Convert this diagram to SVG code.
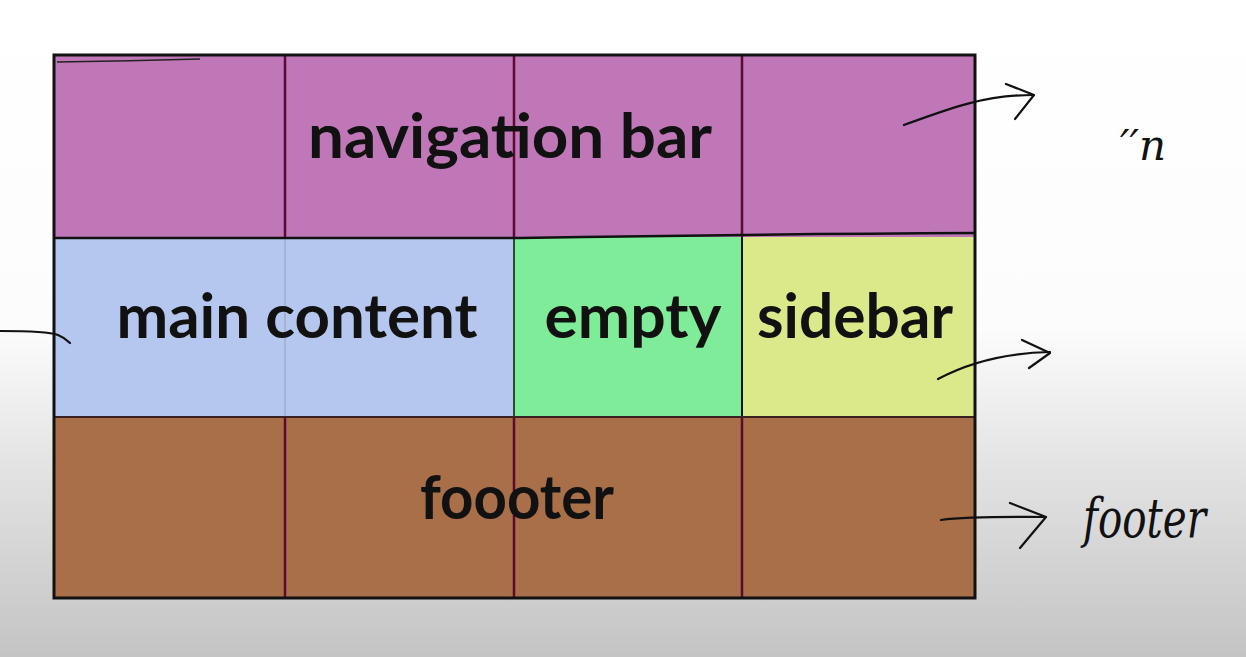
<svg xmlns="http://www.w3.org/2000/svg" width="1246" height="657" viewBox="0 0 1246 657">
  <defs>
    <linearGradient id="bg" x1="0" y1="0" x2="0" y2="1">
      <stop offset="0" stop-color="#ffffff"/>
      <stop offset="0.5" stop-color="#fcfcfc"/>
      <stop offset="0.72" stop-color="#e2e2e2"/>
      <stop offset="1" stop-color="#c4c4c4"/>
    </linearGradient>
    <style>
      .label { font-family: "Lato", "Open Sans", sans-serif; font-weight: 700; font-size: 62px; fill: #111; }
      .cellline { stroke: #5c0b30; stroke-width: 2.5; fill: none; }
      .ink { stroke: #111; stroke-width: 2.2; fill: none; stroke-linecap: round; stroke-linejoin: round; }
      .hand { font-family: "DejaVu Serif", serif; font-style: italic; font-weight: 300; fill: #111; }
    </style>
  </defs>

  <rect width="1246" height="657" fill="url(#bg)"/>

  <!-- navigation bar row -->
  <g id="nav">
    <rect x="54" y="55" width="921" height="182" fill="#bf77b8"/>
    <line class="cellline" x1="285" y1="55" x2="285" y2="237"/>
    <line class="cellline" x1="514" y1="55" x2="514" y2="237"/>
    <line class="cellline" x1="742" y1="55" x2="742" y2="237"/>
    <text class="label" x="510" y="158" text-anchor="middle" textLength="404" lengthAdjust="spacingAndGlyphs">navigation bar</text>
  </g>

  <!-- main content spans two columns -->
  <g id="main">
    <rect x="54" y="237" width="460" height="180" fill="#b5c7ee"/>
    <line x1="285" y1="237" x2="285" y2="417" stroke="#a3b3d6" stroke-width="2"/>
    <text class="label" x="297" y="338" text-anchor="middle" textLength="361" lengthAdjust="spacingAndGlyphs">main content</text>
  </g>

  <g id="empty">
    <rect x="514" y="237" width="228" height="180" fill="#7eec98"/>
    <text class="label" x="633" y="338" text-anchor="middle" textLength="177" lengthAdjust="spacingAndGlyphs">empty</text>
  </g>

  <g id="sidebar">
    <rect x="742" y="237" width="233" height="180" fill="#dce98b"/>
    <text class="label" x="855" y="338" text-anchor="middle" textLength="196" lengthAdjust="spacingAndGlyphs">sidebar</text>
  </g>

  <g id="footer">
    <rect x="54" y="417" width="921" height="181" fill="#a86f49"/>
    <line class="cellline" x1="285" y1="417" x2="285" y2="598"/>
    <line class="cellline" x1="514" y1="417" x2="514" y2="598"/>
    <line class="cellline" x1="742" y1="417" x2="742" y2="598"/>
    <text class="label" x="517" y="519" text-anchor="middle" textLength="194" lengthAdjust="spacingAndGlyphs">foooter</text>
  </g>

  <!-- grid borders -->
  <g id="grid-lines" fill="none">
    <line x1="514" y1="237" x2="514" y2="417" stroke="#2f4a3a" stroke-width="2"/>
    <line x1="742" y1="237" x2="742" y2="417" stroke="#111" stroke-width="2"/>
    <line x1="54" y1="417" x2="975" y2="417" stroke="#3a2020" stroke-width="2"/>
    <path d="M54 238 L520 238 Q760 234 975 233" stroke="#111" stroke-width="2.5"/>
    <path d="M57 62 Q130 61 200 59" stroke="#222" stroke-width="1.5"/>
    <rect x="54" y="55" width="921" height="543" stroke="#111" stroke-width="3"/>
  </g>

  <!-- hand-drawn arrows -->
  <g id="connectors">
    <path class="ink" d="M904 125 C950 108 985 95 1033 95"/>
    <path class="ink" d="M1006 84 L1034 95 L1015 119"/>
    <path class="ink" d="M0 331 C30 331 50 332 58 335 C63 337 67 340 70 343"/>
    <path class="ink" d="M938 379 C970 362 1005 353 1050 352"/>
    <path class="ink" d="M1022 340 L1050 353 L1029 368"/>
    <path class="ink" d="M941 520 C970 516 1010 517 1045 517"/>
    <path class="ink" d="M1010 503 L1046 517 L1020 548"/>
  </g>

  <!-- handwritten notes -->
  <g id="notes">
    <text class="hand" x="1120" y="160" font-size="42">′′n</text>
    <text class="hand" x="1083" y="537" font-size="54" textLength="123" lengthAdjust="spacingAndGlyphs">footer</text>
  </g>
</svg>
